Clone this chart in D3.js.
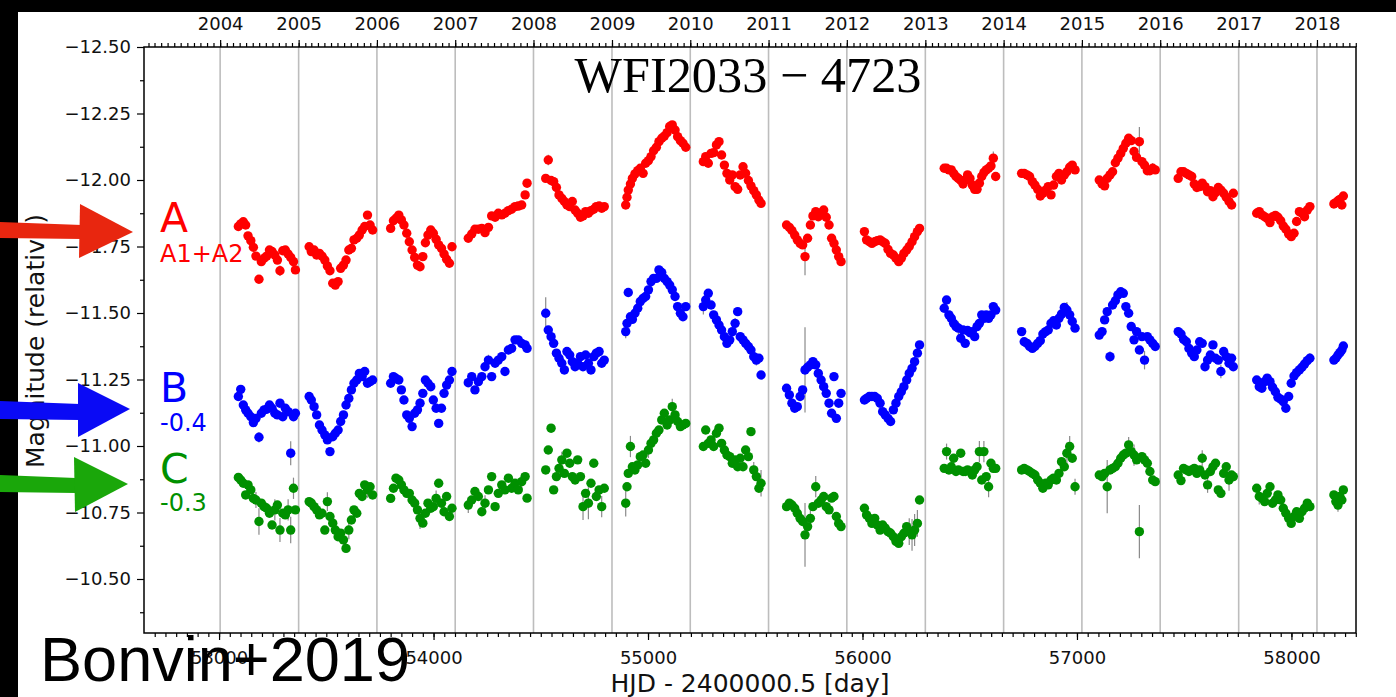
<!DOCTYPE html>
<html>
<head>
<meta charset="utf-8">
<script src="https://cdn.jsdelivr.net/npm/d3@7"></script>
<style>
  html, body { margin: 0; padding: 0; background: #fff; }
  svg { display: block; }
</style>
</head>
<body>
<svg id="chart" width="1396" height="697"></svg>
<script>
// Observation epochs, HJD - 2400000.5, one line per observing season
const hjd = [
  53090, 53101, 53113, 53124, 53135, 53148, 53160, 53172, 53186, 53197, 53210, 53222, 53235, 53247, 53260, 53272, 53284, 53297, 53309, 53322, 53334, 53347, 53356,
  53420, 53430, 53443, 53455, 53468, 53480, 53493, 53505, 53517, 53530, 53542, 53555, 53567, 53580, 53592, 53605, 53617, 53629, 53642, 53654, 53667, 53679, 53692, 53704, 53716,
  53800, 53813, 53825, 53838, 53850, 53862, 53875, 53887, 53900, 53912, 53925, 53937, 53950, 53962, 53974, 53987, 53999, 54012, 54024, 54037, 54049, 54061, 54074, 54086,
  54162, 54178, 54193, 54209, 54225, 54240, 54256, 54271, 54287, 54302, 54318, 54333, 54349, 54364, 54380, 54395, 54411, 54427, 54436,
  54523, 54535, 54548, 54560, 54573, 54585, 54598, 54610, 54622, 54635, 54647, 54660, 54672, 54685, 54697, 54709, 54722, 54734, 54747, 54759, 54772, 54784, 54796,
  54896, 54902, 54908, 54918, 54927, 54939, 54952, 54964, 54977, 54989, 55002, 55014, 55026, 55039, 55051, 55064, 55076, 55089, 55101, 55113, 55126, 55138, 55151, 55163, 55176,
  55258, 55269, 55281, 55294, 55306, 55319, 55331, 55343, 55356, 55368, 55381, 55393, 55406, 55418, 55430, 55443, 55455, 55468, 55480, 55493, 55505, 55517, 55527,
  55646, 55659, 55671, 55684, 55696, 55709, 55721, 55732, 55744, 55757, 55769, 55782, 55794, 55807, 55819, 55831, 55844, 55856, 55867, 55878, 55889, 55900,
  56009, 56019, 56032, 56044, 56057, 56069, 56082, 56094, 56106, 56119, 56131, 56144, 56156, 56169, 56181, 56193, 56206, 56218, 56231, 56243, 56256, 56266,
  56381, 56392, 56403, 56414, 56425, 56436, 56447, 56458, 56469, 56479, 56490, 56501, 56512, 56523, 56534, 56545, 56556, 56566, 56577, 56588, 56599, 56610, 56621,
  56742, 56754, 56767, 56779, 56792, 56804, 56817, 56829, 56841, 56854, 56866, 56879, 56891, 56904, 56916, 56928, 56941, 56953, 56966, 56978, 56991,
  57104, 57117, 57129, 57141, 57154, 57166, 57179, 57191, 57204, 57216, 57228, 57241, 57253, 57266, 57278, 57291, 57303, 57315, 57328, 57340, 57353, 57365,
  57472, 57485, 57497, 57510, 57522, 57535, 57547, 57559, 57572, 57584, 57597, 57609, 57622, 57634, 57646, 57659, 57671, 57684, 57696, 57709, 57721, 57729,
  57838, 57850, 57862, 57875, 57887, 57900, 57912, 57925, 57937, 57950, 57962, 57974, 57987, 57999, 58012, 58024, 58037, 58049, 58061, 58074, 58086,
  58198, 58207, 58217, 58226, 58235, 58242
];

// Image A (A1+A2), relative magnitude
const magA = [
  -11.825, -11.835, -11.843, -11.831, -11.790, -11.772, -11.747, -11.714, -11.627, -11.693, -11.706, -11.714, -11.737, -11.731, -11.718, -11.699, -11.659, -11.734, -11.737, -11.722, -11.709, -11.693, -11.662,
  -11.749, -11.731, -11.737, -11.718, -11.724, -11.714, -11.699, -11.677, -11.659, -11.612, -11.605, -11.618, -11.668, -11.680, -11.699, -11.737, -11.743, -11.775, -11.781, -11.793, -11.812, -11.825, -11.868, -11.831, -11.812,
  -11.818, -11.847, -11.856, -11.868, -11.850, -11.831, -11.800, -11.768, -11.737, -11.709, -11.680, -11.674, -11.712, -11.764, -11.793, -11.812, -11.800, -11.777, -11.756, -11.743, -11.722, -11.702, -11.687, -11.749,
  -11.781, -11.797, -11.815, -11.815, -11.818, -11.802, -11.822, -11.865, -11.860, -11.875, -11.869, -11.875, -11.885, -11.890, -11.900, -11.902, -11.906, -11.944, -11.988,
  -12.006, -12.075, -11.998, -11.994, -11.972, -11.944, -11.931, -11.919, -11.906, -11.900, -11.919, -11.887, -11.875, -11.860, -11.865, -11.881, -11.875, -11.885, -11.890, -11.900, -11.902, -11.894, -11.900,
  -11.906, -11.935, -11.962, -11.985, -12.006, -12.023, -12.035, -12.044, -12.025, -12.063, -12.073, -12.088, -12.110, -12.123, -12.144, -12.157, -12.165, -12.178, -12.201, -12.207, -12.188, -12.163, -12.148, -12.138, -12.123,
  -12.069, -12.088, -12.063, -12.100, -12.103, -12.132, -12.144, -12.094, -12.056, -12.025, -12.000, -12.019, -11.975, -11.965, -12.019, -12.050, -12.025, -11.998, -11.978, -11.960, -11.944, -11.925, -11.912,
  -11.831, -11.822, -11.810, -11.793, -11.775, -11.762, -11.756, -11.712, -11.781, -11.831, -11.865, -11.881, -11.862, -11.875, -11.887, -11.860, -11.831, -11.781, -11.762, -11.737, -11.712, -11.693,
  -11.806, -11.775, -11.768, -11.762, -11.768, -11.772, -11.775, -11.768, -11.762, -11.739, -11.724, -11.718, -11.706, -11.693, -11.706, -11.724, -11.737, -11.750, -11.768, -11.787, -11.806, -11.818,
  -12.044, -12.044, -12.038, -12.038, -12.025, -12.013, -12.006, -11.998, -11.985, -12.000, -12.019, -12.006, -11.981, -11.965, -11.965, -11.988, -12.013, -12.028, -12.038, -12.044, -12.053, -12.082, -12.013,
  -12.025, -12.025, -12.019, -12.013, -11.994, -11.981, -11.965, -11.940, -11.950, -11.962, -11.975, -11.944, -11.981, -12.013, -12.025, -12.000, -12.019, -12.031, -12.048, -12.056, -12.038,
  -12.000, -11.985, -11.978, -12.006, -12.019, -12.031, -12.065, -12.082, -12.100, -12.119, -12.138, -12.157, -12.148, -12.107, -12.085, -12.144, -12.069, -12.056, -12.035, -12.035, -12.044, -12.038,
  -12.006, -12.031, -12.031, -12.025, -12.019, -12.013, -11.985, -11.972, -11.975, -11.988, -11.975, -11.956, -11.960, -11.937, -11.952, -11.972, -11.962, -11.950, -11.935, -11.919, -11.906, -11.950,
  -11.875, -11.881, -11.869, -11.862, -11.856, -11.840, -11.862, -11.867, -11.860, -11.847, -11.827, -11.815, -11.797, -11.787, -11.800, -11.844, -11.881, -11.875, -11.862, -11.887, -11.900,
  -11.910, -11.915, -11.922, -11.927, -11.906, -11.940
];

// Image B, shifted by -0.4 mag
const magB = [
  -11.186, -11.213, -11.154, -11.136, -11.123, -11.110, -11.088, -11.104, -11.033, -11.123, -11.136, -11.138, -11.154, -11.142, -11.123, -11.117, -11.161, -11.110, -11.142, -11.129, -10.973, -11.110, -11.123,
  -11.186, -11.173, -11.148, -11.117, -11.079, -11.060, -11.042, -11.023, -10.979, -11.035, -11.048, -11.060, -11.092, -11.117, -11.154, -11.179, -11.211, -11.236, -11.248, -11.273, -11.261, -11.280, -11.236, -11.242, -11.248,
  -11.236, -11.261, -11.254, -11.248, -11.211, -11.173, -11.117, -11.104, -11.073, -11.123, -11.136, -11.161, -11.198, -11.248, -11.236, -11.223, -11.173, -11.142, -11.085, -11.142, -11.198, -11.229, -11.248, -11.280,
  -11.238, -11.261, -11.211, -11.242, -11.261, -11.298, -11.323, -11.261, -11.311, -11.323, -11.336, -11.280, -11.361, -11.367, -11.399, -11.399, -11.386, -11.380, -11.367,
  -11.499, -11.436, -11.411, -11.386, -11.349, -11.330, -11.311, -11.286, -11.355, -11.342, -11.317, -11.298, -11.311, -11.336, -11.298, -11.342, -11.311, -11.286, -11.336, -11.349, -11.355, -11.311, -11.323,
  -11.430, -11.461, -11.577, -11.486, -11.476, -11.499, -11.518, -11.543, -11.555, -11.562, -11.587, -11.618, -11.630, -11.630, -11.662, -11.652, -11.630, -11.618, -11.605, -11.587, -11.562, -11.524, -11.499, -11.486, -11.524,
  -11.524, -11.549, -11.574, -11.530, -11.493, -11.474, -11.455, -11.436, -11.411, -11.386, -11.399, -11.430, -11.461, -11.505, -11.411, -11.399, -11.386, -11.374, -11.361, -11.336, -11.323, -11.330, -11.267,
  -11.217, -11.192, -11.161, -11.142, -11.148, -11.186, -11.211, -11.286, -11.296, -11.305, -11.317, -11.305, -11.273, -11.248, -11.223, -11.198, -11.161, -11.123, -11.261, -11.104, -11.161, -11.198,
  -11.173, -11.179, -11.186, -11.186, -11.186, -11.179, -11.161, -11.129, -11.117, -11.104, -11.092, -11.136, -11.161, -11.186, -11.204, -11.223, -11.248, -11.273, -11.292, -11.317, -11.349, -11.380,
  -11.518, -11.549, -11.493, -11.480, -11.461, -11.449, -11.443, -11.405, -11.436, -11.386, -11.434, -11.426, -11.430, -11.411, -11.449, -11.461, -11.493, -11.480, -11.493, -11.480, -11.493, -11.524, -11.511,
  -11.430, -11.392, -11.386, -11.374, -11.367, -11.374, -11.386, -11.396, -11.421, -11.430, -11.436, -11.461, -11.471, -11.455, -11.480, -11.496, -11.521, -11.511, -11.493, -11.468, -11.443,
  -11.417, -11.430, -11.474, -11.505, -11.336, -11.530, -11.546, -11.568, -11.580, -11.574, -11.524, -11.499, -11.449, -11.399, -11.430, -11.361, -11.411, -11.323, -11.411, -11.399, -11.386, -11.374,
  -11.430, -11.421, -11.401, -11.392, -11.367, -11.349, -11.336, -11.361, -11.392, -11.386, -11.298, -11.323, -11.342, -11.380, -11.330, -11.323, -11.280, -11.355, -11.336, -11.311, -11.330, -11.298,
  -11.248, -11.223, -11.217, -11.242, -11.255, -11.242, -11.221, -11.204, -11.183, -11.176, -11.167, -11.142, -11.186, -11.236, -11.263, -11.276, -11.286, -11.296, -11.308, -11.321, -11.330,
  -11.323, -11.330, -11.342, -11.351, -11.361, -11.376
];

// Image C, shifted by -0.3 mag
const magC = [
  -10.882, -10.872, -10.860, -10.816, -10.854, -10.835, -10.803, -10.797, -10.716, -10.785, -10.772, -10.766, -10.747, -10.703, -10.760, -10.778, -10.684, -10.747, -10.741, -10.760, -10.684, -10.841, -10.760,
  -10.791, -10.785, -10.772, -10.760, -10.741, -10.747, -10.684, -10.791, -10.735, -10.710, -10.684, -10.659, -10.672, -10.647, -10.615, -10.684, -10.722, -10.760, -10.747, -10.822, -10.810, -10.854, -10.835, -10.847, -10.816,
  -10.803, -10.841, -10.879, -10.872, -10.854, -10.835, -10.822, -10.822, -10.797, -10.785, -10.760, -10.728, -10.710, -10.747, -10.785, -10.766, -10.772, -10.803, -10.860, -10.785, -10.753, -10.810, -10.735, -10.766,
  -10.778, -10.797, -10.829, -10.810, -10.753, -10.785, -10.835, -10.885, -10.772, -10.822, -10.854, -10.835, -10.879, -10.841, -10.860, -10.835, -10.866, -10.885, -10.804,
  -10.910, -10.985, -11.067, -10.835, -10.885, -10.916, -10.948, -10.897, -10.973, -10.935, -10.885, -10.872, -10.948, -10.885, -10.772, -10.822, -10.785, -10.860, -10.935, -10.810, -10.835, -10.772, -10.841,
  -10.785, -10.847, -10.897, -10.998, -10.922, -10.910, -10.929, -10.960, -10.966, -10.935, -10.985, -11.010, -11.023, -11.048, -11.060, -11.098, -11.123, -11.079, -11.098, -11.148, -11.117, -11.092, -11.073, -11.079, -11.085,
  -10.998, -11.060, -11.010, -11.023, -10.998, -11.048, -11.067, -11.010, -10.985, -10.966, -10.960, -10.935, -10.948, -10.922, -10.954, -10.922, -10.985, -10.960, -11.054, -10.910, -10.885, -10.841, -10.860,
  -10.772, -10.785, -10.778, -10.766, -10.747, -10.728, -10.716, -10.666, -10.697, -10.728, -10.772, -10.847, -10.785, -10.797, -10.810, -10.772, -10.760, -10.804, -10.810, -10.735, -10.709, -10.697,
  -10.766, -10.741, -10.728, -10.709, -10.728, -10.703, -10.684, -10.703, -10.691, -10.678, -10.672, -10.659, -10.641, -10.634, -10.659, -10.672, -10.697, -10.678, -10.666, -10.684, -10.709, -10.797,
  -10.916, -10.979, -10.910, -10.922, -10.954, -10.904, -10.910, -10.973, -10.904, -10.904, -10.910, -10.904, -10.891, -10.910, -10.922, -10.979, -10.872, -10.979, -10.885, -10.847, -10.935, -10.916, -10.916,
  -10.910, -10.916, -10.910, -10.904, -10.897, -10.891, -10.872, -10.860, -10.841, -10.860, -10.854, -10.872, -10.879, -10.872, -10.897, -10.941, -10.922, -10.973, -10.998, -10.954, -10.847,
  -10.891, -10.885, -10.897, -10.847, -10.910, -10.916, -10.922, -10.935, -10.954, -10.966, -10.973, -11.004, -10.979, -10.966, -10.948, -10.678, -10.960, -10.948, -10.935, -10.904, -10.872, -10.866,
  -10.891, -10.870, -10.916, -10.910, -10.904, -10.910, -10.916, -10.897, -10.910, -10.954, -10.891, -10.854, -10.904, -10.922, -10.935, -10.835, -10.822, -10.897, -10.922, -10.872, -10.891, -10.885,
  -10.841, -10.810, -10.804, -10.791, -10.822, -10.847, -10.785, -10.797, -10.816, -10.797, -10.766, -10.747, -10.728, -10.709, -10.735, -10.753, -10.728, -10.753, -10.766, -10.785, -10.772,
  -10.816, -10.791, -10.778, -10.810, -10.797, -10.835
];

// Photometric errors large enough to show past the markers: [epoch, sigma]
const errA = [
  [53284, 0.02], [53580, 0.02], [53999, 0.015], [54535, 0.02], [54977, 0.015], [55343, 0.015], [55732, 0.07],
  [56266, 0.012], [56610, 0.025], [56916, 0.015], [57291, 0.055], [57353, 0.02], [57709, 0.02], [57999, 0.012]
];
const errB = [
  [53186, 0.02], [53334, 0.045], [53430, 0.02], [53642, 0.02], [53937, 0.02], [54256, 0.02], [54523, 0.06],
  [54896, 0.025], [55014, 0.02], [55258, 0.03], [55406, 0.02], [55505, 0.02], [55732, 0.16], [56447, 0.025],
  [56599, 0.02], [56953, 0.03], [56978, 0.025], [57154, 0.02], [57315, 0.035], [57671, 0.025], [58086, 0.02]
];
const errC = [
  [53172, 0.03], [53186, 0.05], [53260, 0.04], [53284, 0.045], [53322, 0.04], [53334, 0.05], [53347, 0.04],
  [53505, 0.035], [53580, 0.04], [53605, 0.035], [53692, 0.03], [53850, 0.03], [53937, 0.04], [54012, 0.03],
  [54162, 0.03], [54240, 0.03], [54411, 0.03], [54598, 0.03], [54697, 0.05], [54722, 0.06], [54784, 0.04],
  [54896, 0.05], [54918, 0.04], [55002, 0.03], [55113, 0.03], [55493, 0.03], [55527, 0.05], [55732, 0.12],
  [55757, 0.04], [55782, 0.04], [56218, 0.05], [56231, 0.06], [56243, 0.06], [56256, 0.05], [56392, 0.03],
  [56545, 0.04], [56566, 0.04], [56588, 0.04], [56953, 0.04], [56966, 0.04], [56991, 0.03], [57141, 0.1],
  [57241, 0.03], [57266, 0.04], [57291, 0.1], [57584, 0.03], [57609, 0.03], [57709, 0.04], [57850, 0.03],
  [57974, 0.02], [58217, 0.025]
];

// Axis ticks
const dayTicks = [53000, 54000, 55000, 56000, 57000, 58000];
const magTicks = [-12.5, -12.25, -12.0, -11.75, -11.5, -11.25, -11.0, -10.75, -10.5];
const magMinorTicks = [-12.375, -12.125, -11.875, -11.625, -11.375, -11.125, -10.875, -10.625, -10.375];

// Curve names and offsets shown next to the curves
const curveNames = ["A", "B", "C"];
const curveNotes = ["A1+A2", "-0.4", "-0.3"];

const W = 1396, H = 697;
const plot = { left: 144, right: 1356, top: 47, bottom: 633 };
const dayDomain = [52650, 58301];
const magDomain = [-12.5, -10.297];

const svg = d3.select("#chart");

const x = d3.scaleLinear().domain(dayDomain).range([plot.left, plot.right]);
const y = d3.scaleLinear().domain(magDomain).range([plot.top, plot.bottom]);

// Calendar scale for the top axis (MJD 0 = 1858-11-17)
const mjdZero = Date.UTC(1858, 10, 17);
const toDate = d => new Date(mjdZero + d * 86400000);
const t = d3.scaleUtc().domain(dayDomain.map(toDate)).range([plot.left, plot.right]);

svg.append("rect").attr("width", W).attr("height", H).attr("fill", "#fff");

// Year boundary grid
const yearDates = t.ticks(d3.utcYear.every(1));
svg.append("g").selectAll("line").data(yearDates).join("line")
  .attr("x1", d => t(d)).attr("x2", d => t(d))
  .attr("y1", plot.top).attr("y2", plot.bottom)
  .attr("stroke", "#bdbdbd").attr("stroke-width", 1.6);

const tickFont = "'DejaVu Sans', sans-serif";
function styleAxis(g) {
  g.select(".domain").remove();
  g.selectAll(".tick line").attr("stroke", "#000").attr("stroke-width", 1.2);
  g.selectAll(".tick text").attr("font-family", tickFont).attr("font-size", 18).attr("fill", "#111");
}

// Left axis
svg.append("g").attr("transform", `translate(${plot.left},0)`)
  .call(d3.axisLeft(y).tickValues(magTicks).tickSize(7).tickPadding(6).tickFormat(d3.format(".2f")))
  .call(styleAxis);
svg.append("g").attr("transform", `translate(${plot.left},0)`)
  .call(d3.axisLeft(y).tickValues(magMinorTicks).tickSize(4).tickFormat(""))
  .call(styleAxis);

// Bottom axis
svg.append("g").attr("transform", `translate(0,${plot.bottom})`)
  .call(d3.axisBottom(x).tickValues(dayTicks).tickSize(7).tickPadding(11).tickFormat(d3.format("d")))
  .call(styleAxis);
svg.append("g").attr("transform", `translate(0,${plot.bottom})`)
  .call(d3.axisBottom(x).tickValues(d3.range(52700, dayDomain[1], 50)).tickSize(4).tickFormat(""))
  .call(styleAxis);

// Top axis: calendar years
svg.append("g").attr("transform", `translate(0,${plot.top})`)
  .call(d3.axisTop(t).ticks(d3.utcYear.every(1)).tickSize(7).tickPadding(10).tickFormat(d3.utcFormat("%Y")))
  .call(styleAxis);
svg.append("g").attr("transform", `translate(0,${plot.top})`)
  .call(d3.axisTop(t).ticks(d3.utcMonth.every(1)).tickSize(4).tickFormat(""))
  .call(styleAxis);

// Frame
svg.append("rect")
  .attr("x", plot.left).attr("y", plot.top)
  .attr("width", plot.right - plot.left).attr("height", plot.bottom - plot.top)
  .attr("fill", "none").attr("stroke", "#000").attr("stroke-width", 1.5);

// Light curves
const curves = [
  { mags: magA, errs: errA, color: "#ff0000" },
  { mags: magB, errs: errB, color: "#0000ff" },
  { mags: magC, errs: errC, color: "#009000" }
];

const bars = svg.append("g");
curves.forEach(c => {
  const rows = c.errs
    .map(([day, s]) => ({ day, s, m: c.mags[hjd.indexOf(day)] }))
    .filter(r => r.m !== undefined);
  bars.selectAll(null).data(rows).join("line")
    .attr("x1", r => x(r.day)).attr("x2", r => x(r.day))
    .attr("y1", r => y(r.m - r.s)).attr("y2", r => y(r.m + r.s))
    .attr("stroke", "#8a8a8a").attr("stroke-width", 1.2);
});

curves.forEach(c => {
  svg.append("g").selectAll("circle").data(hjd).join("circle")
    .attr("cx", d => x(d))
    .attr("cy", (d, i) => y(c.mags[i]))
    .attr("r", 4.7)
    .attr("fill", c.color);
});

// Title
svg.append("text")
  .attr("x", 748).attr("y", 92)
  .attr("text-anchor", "middle")
  .attr("font-family", "'Liberation Serif', 'DejaVu Serif', serif")
  .attr("font-size", 50)
  .attr("textLength", 347).attr("lengthAdjust", "spacingAndGlyphs")
  .attr("fill", "#000")
  .text("WFI2033 \u2212 4723");

// Axis titles
svg.append("text")
  .attr("x", 750).attr("y", 692)
  .attr("text-anchor", "middle")
  .attr("font-family", tickFont).attr("font-size", 25).attr("fill", "#111")
  .text("HJD - 2400000.5 [day]");

svg.append("text")
  .attr("transform", "translate(44,341) rotate(-90)")
  .attr("text-anchor", "middle")
  .attr("font-family", tickFont).attr("font-size", 25).attr("fill", "#111")
  .text("Magnitude (relative)");

// Curve labels
const labelColors = ["#ff0000", "#0000ff", "#009000"];
const labelBase = [232, 402, 483];
const noteBase = [262, 431, 511];
svg.append("g").selectAll("text").data(curveNames).join("text")
  .attr("x", 160).attr("y", (d, i) => labelBase[i])
  .attr("font-family", tickFont).attr("font-size", 41)
  .attr("fill", (d, i) => labelColors[i])
  .text(d => d);
svg.append("g").selectAll("text").data(curveNotes).join("text")
  .attr("x", 160).attr("y", (d, i) => noteBase[i])
  .attr("font-family", tickFont).attr("font-size", 24)
  .attr("fill", (d, i) => labelColors[i])
  .text(d => d);

// Slide frame: dark bands on top and left
svg.append("rect").attr("x", 0).attr("y", 0).attr("width", W).attr("height", 12).attr("fill", "#000");
svg.append("rect").attr("x", 0).attr("y", 0).attr("width", 18).attr("height", H).attr("fill", "#000");

// Pointer arrows to each curve
const arrows = [
  { color: "#e8260f", shaft: [222, 238], head: [[80, 204], [133, 232], [79, 258]] },
  { color: "#0a0af5", shaft: [401, 419], head: [[78, 383], [130, 409], [78, 437]] },
  { color: "#1aa70a", shaft: [475, 492], head: [[74, 457], [128, 484], [75, 512]] }
];
const arrowG = svg.append("g");
arrows.forEach(a => {
  const hx = a.head[0][0];
  arrowG.append("polygon")
    .attr("points", [[0, a.shaft[0]], [hx + 2, a.shaft[0] + 3], [hx + 2, a.shaft[1] + 1], [0, a.shaft[1]]].join(" "))
    .attr("fill", a.color);
  arrowG.append("polygon")
    .attr("points", a.head.join(" "))
    .attr("fill", a.color);
});

// Citation
svg.append("text")
  .attr("x", 40).attr("y", 681)
  .attr("font-family", "'Liberation Sans', Arial, sans-serif")
  .attr("font-size", 63)
  .attr("textLength", 370).attr("lengthAdjust", "spacingAndGlyphs")
  .attr("fill", "#000")
  .text("Bonvin+2019");
</script>
</body>
</html>
